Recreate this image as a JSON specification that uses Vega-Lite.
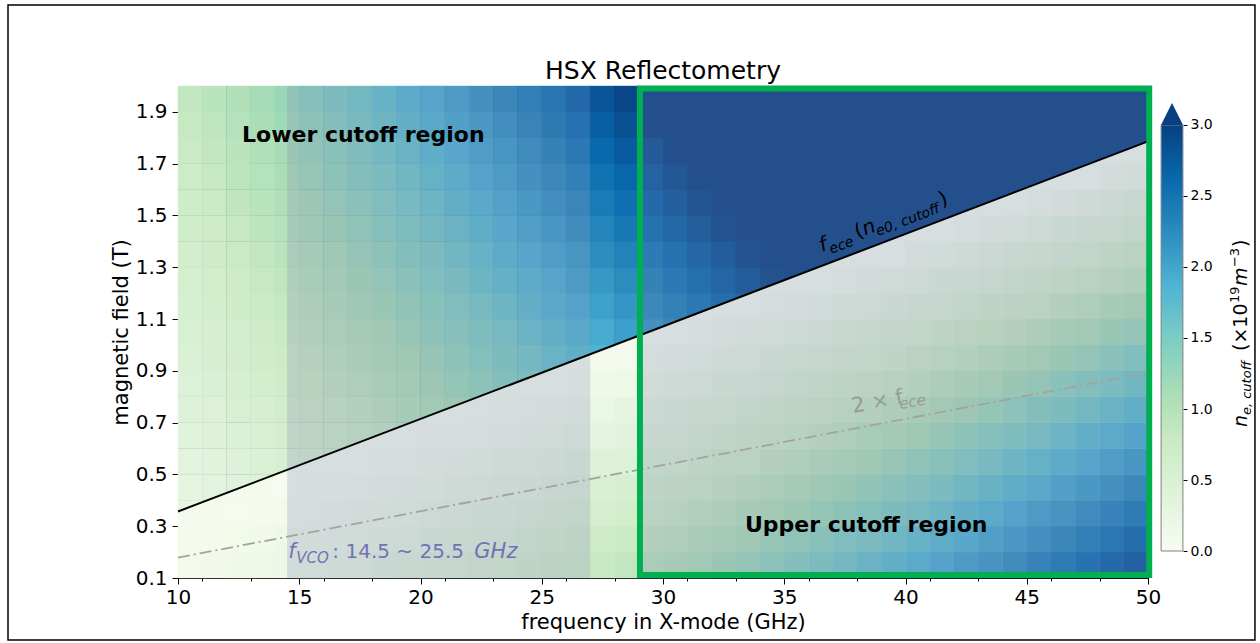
{
"$schema": "https://vega.github.io/schema/vega-lite/v6.json",
"width": 970, "height": 492,
"autosize": {"type": "none"},
"padding": {"left": 178, "top": 86, "right": 112, "bottom": 65},
"background": "white",
"view": {"fill": "#084081", "stroke": "black", "strokeWidth": 1},
"config": {"font": "DejaVu Sans", "text": {"font": "DejaVu Sans"}, "axis": {"labelOverlap": false}},
"datasets": {
"one": [{"k": 1}],
"ece": [{"f": 10, "b": 0.357, "b2": 0.179}, {"f": 50, "b": 1.786, "b2": 0.893}],
"bands": [{"f": 14.5, "f2": 27}, {"f": 29, "f2": 50}],
"lower": [
{"f":10.5,"b":0.35,"n":0.26},{"f":10.5,"b":0.45,"n":0.30},{"f":10.5,"b":0.55,"n":0.34},{"f":10.5,"b":0.65,"n":0.37},{"f":10.5,"b":0.75,"n":0.41},{"f":10.5,"b":0.85,"n":0.45},{"f":10.5,"b":0.95,"n":0.48},{"f":10.5,"b":1.05,"n":0.52},{"f":10.5,"b":1.15,"n":0.56},{"f":10.5,"b":1.25,"n":0.59},{"f":10.5,"b":1.35,"n":0.63},{"f":10.5,"b":1.45,"n":0.67},{"f":10.5,"b":1.55,"n":0.70},{"f":10.5,"b":1.65,"n":0.74},{"f":10.5,"b":1.75,"n":0.78},{"f":10.5,"b":1.85,"n":0.81},{"f":10.5,"b":1.95,"n":0.85},
{"f":11.5,"b":0.35,"n":0.30},{"f":11.5,"b":0.45,"n":0.34},{"f":11.5,"b":0.55,"n":0.38},{"f":11.5,"b":0.65,"n":0.42},{"f":11.5,"b":0.75,"n":0.46},{"f":11.5,"b":0.85,"n":0.50},{"f":11.5,"b":0.95,"n":0.54},{"f":11.5,"b":1.05,"n":0.58},{"f":11.5,"b":1.15,"n":0.62},{"f":11.5,"b":1.25,"n":0.66},{"f":11.5,"b":1.35,"n":0.70},{"f":11.5,"b":1.45,"n":0.74},{"f":11.5,"b":1.55,"n":0.78},{"f":11.5,"b":1.65,"n":0.82},{"f":11.5,"b":1.75,"n":0.86},{"f":11.5,"b":1.85,"n":0.90},{"f":11.5,"b":1.95,"n":0.94},
{"f":12.5,"b":0.45,"n":0.39},{"f":12.5,"b":0.55,"n":0.43},{"f":12.5,"b":0.65,"n":0.48},{"f":12.5,"b":0.75,"n":0.52},{"f":12.5,"b":0.85,"n":0.56},{"f":12.5,"b":0.95,"n":0.61},{"f":12.5,"b":1.05,"n":0.65},{"f":12.5,"b":1.15,"n":0.69},{"f":12.5,"b":1.25,"n":0.74},{"f":12.5,"b":1.35,"n":0.78},{"f":12.5,"b":1.45,"n":0.82},{"f":12.5,"b":1.55,"n":0.87},{"f":12.5,"b":1.65,"n":0.91},{"f":12.5,"b":1.75,"n":0.95},{"f":12.5,"b":1.85,"n":1.00},{"f":12.5,"b":1.95,"n":1.04},
{"f":13.5,"b":0.45,"n":0.44},{"f":13.5,"b":0.55,"n":0.48},{"f":13.5,"b":0.65,"n":0.53},{"f":13.5,"b":0.75,"n":0.58},{"f":13.5,"b":0.85,"n":0.62},{"f":13.5,"b":0.95,"n":0.67},{"f":13.5,"b":1.05,"n":0.72},{"f":13.5,"b":1.15,"n":0.77},{"f":13.5,"b":1.25,"n":0.81},{"f":13.5,"b":1.35,"n":0.86},{"f":13.5,"b":1.45,"n":0.91},{"f":13.5,"b":1.55,"n":0.95},{"f":13.5,"b":1.65,"n":1.00},{"f":13.5,"b":1.75,"n":1.05},{"f":13.5,"b":1.85,"n":1.09},{"f":13.5,"b":1.95,"n":1.14},
{"f":14.5,"b":0.55,"n":0.54},{"f":14.5,"b":0.65,"n":0.59},{"f":14.5,"b":0.75,"n":0.64},{"f":14.5,"b":0.85,"n":0.69},{"f":14.5,"b":0.95,"n":0.74},{"f":14.5,"b":1.05,"n":0.79},{"f":14.5,"b":1.15,"n":0.84},{"f":14.5,"b":1.25,"n":0.89},{"f":14.5,"b":1.35,"n":0.94},{"f":14.5,"b":1.45,"n":0.99},{"f":14.5,"b":1.55,"n":1.04},{"f":14.5,"b":1.65,"n":1.09},{"f":14.5,"b":1.75,"n":1.14},{"f":14.5,"b":1.85,"n":1.19},{"f":14.5,"b":1.95,"n":1.24},
{"f":15.5,"b":0.55,"n":0.59},{"f":15.5,"b":0.65,"n":0.65},{"f":15.5,"b":0.75,"n":0.70},{"f":15.5,"b":0.85,"n":0.76},{"f":15.5,"b":0.95,"n":0.81},{"f":15.5,"b":1.05,"n":0.86},{"f":15.5,"b":1.15,"n":0.92},{"f":15.5,"b":1.25,"n":0.97},{"f":15.5,"b":1.35,"n":1.02},{"f":15.5,"b":1.45,"n":1.08},{"f":15.5,"b":1.55,"n":1.13},{"f":15.5,"b":1.65,"n":1.19},{"f":15.5,"b":1.75,"n":1.24},{"f":15.5,"b":1.85,"n":1.29},{"f":15.5,"b":1.95,"n":1.35},
{"f":16.5,"b":0.55,"n":0.65},{"f":16.5,"b":0.65,"n":0.71},{"f":16.5,"b":0.75,"n":0.77},{"f":16.5,"b":0.85,"n":0.83},{"f":16.5,"b":0.95,"n":0.88},{"f":16.5,"b":1.05,"n":0.94},{"f":16.5,"b":1.15,"n":1.00},{"f":16.5,"b":1.25,"n":1.05},{"f":16.5,"b":1.35,"n":1.11},{"f":16.5,"b":1.45,"n":1.17},{"f":16.5,"b":1.55,"n":1.23},{"f":16.5,"b":1.65,"n":1.28},{"f":16.5,"b":1.75,"n":1.34},{"f":16.5,"b":1.85,"n":1.40},{"f":16.5,"b":1.95,"n":1.46},
{"f":17.5,"b":0.65,"n":0.78},{"f":17.5,"b":0.75,"n":0.84},{"f":17.5,"b":0.85,"n":0.90},{"f":17.5,"b":0.95,"n":0.96},{"f":17.5,"b":1.05,"n":1.02},{"f":17.5,"b":1.15,"n":1.08},{"f":17.5,"b":1.25,"n":1.14},{"f":17.5,"b":1.35,"n":1.20},{"f":17.5,"b":1.45,"n":1.26},{"f":17.5,"b":1.55,"n":1.32},{"f":17.5,"b":1.65,"n":1.38},{"f":17.5,"b":1.75,"n":1.44},{"f":17.5,"b":1.85,"n":1.51},{"f":17.5,"b":1.95,"n":1.57},
{"f":18.5,"b":0.65,"n":0.84},{"f":18.5,"b":0.75,"n":0.91},{"f":18.5,"b":0.85,"n":0.97},{"f":18.5,"b":0.95,"n":1.04},{"f":18.5,"b":1.05,"n":1.10},{"f":18.5,"b":1.15,"n":1.16},{"f":18.5,"b":1.25,"n":1.23},{"f":18.5,"b":1.35,"n":1.29},{"f":18.5,"b":1.45,"n":1.36},{"f":18.5,"b":1.55,"n":1.42},{"f":18.5,"b":1.65,"n":1.49},{"f":18.5,"b":1.75,"n":1.55},{"f":18.5,"b":1.85,"n":1.61},{"f":18.5,"b":1.95,"n":1.68},
{"f":19.5,"b":0.65,"n":0.91},{"f":19.5,"b":0.75,"n":0.98},{"f":19.5,"b":0.85,"n":1.05},{"f":19.5,"b":0.95,"n":1.12},{"f":19.5,"b":1.05,"n":1.18},{"f":19.5,"b":1.15,"n":1.25},{"f":19.5,"b":1.25,"n":1.32},{"f":19.5,"b":1.35,"n":1.39},{"f":19.5,"b":1.45,"n":1.45},{"f":19.5,"b":1.55,"n":1.52},{"f":19.5,"b":1.65,"n":1.59},{"f":19.5,"b":1.75,"n":1.66},{"f":19.5,"b":1.85,"n":1.72},{"f":19.5,"b":1.95,"n":1.79},
{"f":20.5,"b":0.75,"n":1.06},{"f":20.5,"b":0.85,"n":1.13},{"f":20.5,"b":0.95,"n":1.20},{"f":20.5,"b":1.05,"n":1.27},{"f":20.5,"b":1.15,"n":1.34},{"f":20.5,"b":1.25,"n":1.41},{"f":20.5,"b":1.35,"n":1.48},{"f":20.5,"b":1.45,"n":1.55},{"f":20.5,"b":1.55,"n":1.63},{"f":20.5,"b":1.65,"n":1.70},{"f":20.5,"b":1.75,"n":1.77},{"f":20.5,"b":1.85,"n":1.84},{"f":20.5,"b":1.95,"n":1.91},
{"f":21.5,"b":0.75,"n":1.13},{"f":21.5,"b":0.85,"n":1.21},{"f":21.5,"b":0.95,"n":1.28},{"f":21.5,"b":1.05,"n":1.36},{"f":21.5,"b":1.15,"n":1.43},{"f":21.5,"b":1.25,"n":1.51},{"f":21.5,"b":1.35,"n":1.58},{"f":21.5,"b":1.45,"n":1.66},{"f":21.5,"b":1.55,"n":1.73},{"f":21.5,"b":1.65,"n":1.81},{"f":21.5,"b":1.75,"n":1.88},{"f":21.5,"b":1.85,"n":1.96},{"f":21.5,"b":1.95,"n":2.03},
{"f":22.5,"b":0.75,"n":1.21},{"f":22.5,"b":0.85,"n":1.29},{"f":22.5,"b":0.95,"n":1.37},{"f":22.5,"b":1.05,"n":1.45},{"f":22.5,"b":1.15,"n":1.53},{"f":22.5,"b":1.25,"n":1.61},{"f":22.5,"b":1.35,"n":1.68},{"f":22.5,"b":1.45,"n":1.76},{"f":22.5,"b":1.55,"n":1.84},{"f":22.5,"b":1.65,"n":1.92},{"f":22.5,"b":1.75,"n":2.00},{"f":22.5,"b":1.85,"n":2.07},{"f":22.5,"b":1.95,"n":2.15},
{"f":23.5,"b":0.85,"n":1.38},{"f":23.5,"b":0.95,"n":1.46},{"f":23.5,"b":1.05,"n":1.54},{"f":23.5,"b":1.15,"n":1.62},{"f":23.5,"b":1.25,"n":1.71},{"f":23.5,"b":1.35,"n":1.79},{"f":23.5,"b":1.45,"n":1.87},{"f":23.5,"b":1.55,"n":1.95},{"f":23.5,"b":1.65,"n":2.03},{"f":23.5,"b":1.75,"n":2.11},{"f":23.5,"b":1.85,"n":2.20},{"f":23.5,"b":1.95,"n":2.28},
{"f":24.5,"b":0.85,"n":1.47},{"f":24.5,"b":0.95,"n":1.55},{"f":24.5,"b":1.05,"n":1.64},{"f":24.5,"b":1.15,"n":1.72},{"f":24.5,"b":1.25,"n":1.81},{"f":24.5,"b":1.35,"n":1.89},{"f":24.5,"b":1.45,"n":1.98},{"f":24.5,"b":1.55,"n":2.06},{"f":24.5,"b":1.65,"n":2.15},{"f":24.5,"b":1.75,"n":2.23},{"f":24.5,"b":1.85,"n":2.32},{"f":24.5,"b":1.95,"n":2.40},
{"f":25.5,"b":0.85,"n":1.56},{"f":25.5,"b":0.95,"n":1.65},{"f":25.5,"b":1.05,"n":1.74},{"f":25.5,"b":1.15,"n":1.83},{"f":25.5,"b":1.25,"n":1.91},{"f":25.5,"b":1.35,"n":2.00},{"f":25.5,"b":1.45,"n":2.09},{"f":25.5,"b":1.55,"n":2.18},{"f":25.5,"b":1.65,"n":2.27},{"f":25.5,"b":1.75,"n":2.36},{"f":25.5,"b":1.85,"n":2.45},{"f":25.5,"b":1.95,"n":2.53},
{"f":26.5,"b":0.95,"n":1.75},{"f":26.5,"b":1.05,"n":1.84},{"f":26.5,"b":1.15,"n":1.93},{"f":26.5,"b":1.25,"n":2.02},{"f":26.5,"b":1.35,"n":2.11},{"f":26.5,"b":1.45,"n":2.21},{"f":26.5,"b":1.55,"n":2.30},{"f":26.5,"b":1.65,"n":2.39},{"f":26.5,"b":1.75,"n":2.48},{"f":26.5,"b":1.85,"n":2.57},{"f":26.5,"b":1.95,"n":2.67},
{"f":27.5,"b":0.95,"n":1.85},{"f":27.5,"b":1.05,"n":1.94},{"f":27.5,"b":1.15,"n":2.04},{"f":27.5,"b":1.25,"n":2.13},{"f":27.5,"b":1.35,"n":2.23},{"f":27.5,"b":1.45,"n":2.32},{"f":27.5,"b":1.55,"n":2.42},{"f":27.5,"b":1.65,"n":2.51},{"f":27.5,"b":1.75,"n":2.61},{"f":27.5,"b":1.85,"n":2.71},{"f":27.5,"b":1.95,"n":2.80},
{"f":28.5,"b":1.05,"n":2.05},{"f":28.5,"b":1.15,"n":2.15},{"f":28.5,"b":1.25,"n":2.25},{"f":28.5,"b":1.35,"n":2.34},{"f":28.5,"b":1.45,"n":2.44},{"f":28.5,"b":1.55,"n":2.54},{"f":28.5,"b":1.65,"n":2.64},{"f":28.5,"b":1.75,"n":2.74},{"f":28.5,"b":1.85,"n":2.84},{"f":28.5,"b":1.95,"n":2.94},
{"f":29.5,"b":1.05,"n":2.16},{"f":29.5,"b":1.15,"n":2.26},{"f":29.5,"b":1.25,"n":2.36},{"f":29.5,"b":1.35,"n":2.46},{"f":29.5,"b":1.45,"n":2.57},{"f":29.5,"b":1.55,"n":2.67},{"f":29.5,"b":1.65,"n":2.77},{"f":29.5,"b":1.75,"n":2.87},{"f":29.5,"b":1.85,"n":2.98},
{"f":30.5,"b":1.05,"n":2.27},{"f":30.5,"b":1.15,"n":2.37},{"f":30.5,"b":1.25,"n":2.48},{"f":30.5,"b":1.35,"n":2.58},{"f":30.5,"b":1.45,"n":2.69},{"f":30.5,"b":1.55,"n":2.80},{"f":30.5,"b":1.65,"n":2.90},
{"f":31.5,"b":1.15,"n":2.49},{"f":31.5,"b":1.25,"n":2.60},{"f":31.5,"b":1.35,"n":2.71},{"f":31.5,"b":1.45,"n":2.82},{"f":31.5,"b":1.55,"n":2.93},
{"f":32.5,"b":1.15,"n":2.61},{"f":32.5,"b":1.25,"n":2.72},{"f":32.5,"b":1.35,"n":2.83},{"f":32.5,"b":1.45,"n":2.95},
{"f":33.5,"b":1.15,"n":2.73},{"f":33.5,"b":1.25,"n":2.85},{"f":33.5,"b":1.35,"n":2.96},
{"f":34.5,"b":1.25,"n":2.97}
],
"upper": [
{"f":10.5,"b":0.15,"n":0.08},{"f":10.5,"b":0.25,"n":0.05},
{"f":11.5,"b":0.15,"n":0.10},{"f":11.5,"b":0.25,"n":0.06},
{"f":12.5,"b":0.15,"n":0.13},{"f":12.5,"b":0.25,"n":0.09},{"f":12.5,"b":0.35,"n":0.04},
{"f":13.5,"b":0.15,"n":0.16},{"f":13.5,"b":0.25,"n":0.11},{"f":13.5,"b":0.35,"n":0.06},
{"f":14.5,"b":0.15,"n":0.19},{"f":14.5,"b":0.25,"n":0.14},{"f":14.5,"b":0.35,"n":0.08},{"f":14.5,"b":0.45,"n":0.03},
{"f":15.5,"b":0.15,"n":0.22},{"f":15.5,"b":0.25,"n":0.16},{"f":15.5,"b":0.35,"n":0.11},{"f":15.5,"b":0.45,"n":0.06},
{"f":16.5,"b":0.15,"n":0.25},{"f":16.5,"b":0.25,"n":0.19},{"f":16.5,"b":0.35,"n":0.14},{"f":16.5,"b":0.45,"n":0.08},
{"f":17.5,"b":0.15,"n":0.29},{"f":17.5,"b":0.25,"n":0.23},{"f":17.5,"b":0.35,"n":0.17},{"f":17.5,"b":0.45,"n":0.11},{"f":17.5,"b":0.55,"n":0.05},
{"f":18.5,"b":0.15,"n":0.33},{"f":18.5,"b":0.25,"n":0.26},{"f":18.5,"b":0.35,"n":0.20},{"f":18.5,"b":0.45,"n":0.14},{"f":18.5,"b":0.55,"n":0.07},
{"f":19.5,"b":0.15,"n":0.37},{"f":19.5,"b":0.25,"n":0.30},{"f":19.5,"b":0.35,"n":0.23},{"f":19.5,"b":0.45,"n":0.17},{"f":19.5,"b":0.55,"n":0.10},
{"f":20.5,"b":0.15,"n":0.41},{"f":20.5,"b":0.25,"n":0.34},{"f":20.5,"b":0.35,"n":0.27},{"f":20.5,"b":0.45,"n":0.20},{"f":20.5,"b":0.55,"n":0.13},{"f":20.5,"b":0.65,"n":0.06},
{"f":21.5,"b":0.15,"n":0.46},{"f":21.5,"b":0.25,"n":0.39},{"f":21.5,"b":0.35,"n":0.31},{"f":21.5,"b":0.45,"n":0.24},{"f":21.5,"b":0.55,"n":0.16},{"f":21.5,"b":0.65,"n":0.09},
{"f":22.5,"b":0.15,"n":0.51},{"f":22.5,"b":0.25,"n":0.43},{"f":22.5,"b":0.35,"n":0.35},{"f":22.5,"b":0.45,"n":0.28},{"f":22.5,"b":0.55,"n":0.20},{"f":22.5,"b":0.65,"n":0.12},
{"f":23.5,"b":0.15,"n":0.56},{"f":23.5,"b":0.25,"n":0.48},{"f":23.5,"b":0.35,"n":0.40},{"f":23.5,"b":0.45,"n":0.32},{"f":23.5,"b":0.55,"n":0.24},{"f":23.5,"b":0.65,"n":0.15},{"f":23.5,"b":0.75,"n":0.07},
{"f":24.5,"b":0.15,"n":0.62},{"f":24.5,"b":0.25,"n":0.53},{"f":24.5,"b":0.35,"n":0.45},{"f":24.5,"b":0.45,"n":0.36},{"f":24.5,"b":0.55,"n":0.28},{"f":24.5,"b":0.65,"n":0.19},{"f":24.5,"b":0.75,"n":0.11},
{"f":25.5,"b":0.15,"n":0.67},{"f":25.5,"b":0.25,"n":0.59},{"f":25.5,"b":0.35,"n":0.50},{"f":25.5,"b":0.45,"n":0.41},{"f":25.5,"b":0.55,"n":0.32},{"f":25.5,"b":0.65,"n":0.23},{"f":25.5,"b":0.75,"n":0.14},
{"f":26.5,"b":0.15,"n":0.73},{"f":26.5,"b":0.25,"n":0.64},{"f":26.5,"b":0.35,"n":0.55},{"f":26.5,"b":0.45,"n":0.46},{"f":26.5,"b":0.55,"n":0.37},{"f":26.5,"b":0.65,"n":0.27},{"f":26.5,"b":0.75,"n":0.18},{"f":26.5,"b":0.85,"n":0.09},
{"f":27.5,"b":0.15,"n":0.80},{"f":27.5,"b":0.25,"n":0.70},{"f":27.5,"b":0.35,"n":0.60},{"f":27.5,"b":0.45,"n":0.51},{"f":27.5,"b":0.55,"n":0.41},{"f":27.5,"b":0.65,"n":0.32},{"f":27.5,"b":0.75,"n":0.22},{"f":27.5,"b":0.85,"n":0.13},
{"f":28.5,"b":0.15,"n":0.86},{"f":28.5,"b":0.25,"n":0.76},{"f":28.5,"b":0.35,"n":0.66},{"f":28.5,"b":0.45,"n":0.56},{"f":28.5,"b":0.55,"n":0.46},{"f":28.5,"b":0.65,"n":0.36},{"f":28.5,"b":0.75,"n":0.27},{"f":28.5,"b":0.85,"n":0.17},{"f":28.5,"b":0.95,"n":0.07},
{"f":29.5,"b":0.15,"n":0.93},{"f":29.5,"b":0.25,"n":0.82},{"f":29.5,"b":0.35,"n":0.72},{"f":29.5,"b":0.45,"n":0.62},{"f":29.5,"b":0.55,"n":0.52},{"f":29.5,"b":0.65,"n":0.41},{"f":29.5,"b":0.75,"n":0.31},{"f":29.5,"b":0.85,"n":0.21},{"f":29.5,"b":0.95,"n":0.11},
{"f":30.5,"b":0.15,"n":1.00},{"f":30.5,"b":0.25,"n":0.89},{"f":30.5,"b":0.35,"n":0.78},{"f":30.5,"b":0.45,"n":0.68},{"f":30.5,"b":0.55,"n":0.57},{"f":30.5,"b":0.65,"n":0.47},{"f":30.5,"b":0.75,"n":0.36},{"f":30.5,"b":0.85,"n":0.25},{"f":30.5,"b":0.95,"n":0.15},
{"f":31.5,"b":0.15,"n":1.07},{"f":31.5,"b":0.25,"n":0.96},{"f":31.5,"b":0.35,"n":0.85},{"f":31.5,"b":0.45,"n":0.74},{"f":31.5,"b":0.55,"n":0.63},{"f":31.5,"b":0.65,"n":0.52},{"f":31.5,"b":0.75,"n":0.41},{"f":31.5,"b":0.85,"n":0.30},{"f":31.5,"b":0.95,"n":0.19},{"f":31.5,"b":1.05,"n":0.08},
{"f":32.5,"b":0.15,"n":1.14},{"f":32.5,"b":0.25,"n":1.03},{"f":32.5,"b":0.35,"n":0.92},{"f":32.5,"b":0.45,"n":0.80},{"f":32.5,"b":0.55,"n":0.69},{"f":32.5,"b":0.65,"n":0.58},{"f":32.5,"b":0.75,"n":0.46},{"f":32.5,"b":0.85,"n":0.35},{"f":32.5,"b":0.95,"n":0.24},{"f":32.5,"b":1.05,"n":0.13},
{"f":33.5,"b":0.15,"n":1.22},{"f":33.5,"b":0.25,"n":1.10},{"f":33.5,"b":0.35,"n":0.99},{"f":33.5,"b":0.45,"n":0.87},{"f":33.5,"b":0.55,"n":0.75},{"f":33.5,"b":0.65,"n":0.64},{"f":33.5,"b":0.75,"n":0.52},{"f":33.5,"b":0.85,"n":0.40},{"f":33.5,"b":0.95,"n":0.29},{"f":33.5,"b":1.05,"n":0.17},
{"f":34.5,"b":0.15,"n":1.30},{"f":34.5,"b":0.25,"n":1.18},{"f":34.5,"b":0.35,"n":1.06},{"f":34.5,"b":0.45,"n":0.94},{"f":34.5,"b":0.55,"n":0.82},{"f":34.5,"b":0.65,"n":0.70},{"f":34.5,"b":0.75,"n":0.58},{"f":34.5,"b":0.85,"n":0.46},{"f":34.5,"b":0.95,"n":0.34},{"f":34.5,"b":1.05,"n":0.22},{"f":34.5,"b":1.15,"n":0.10},
{"f":35.5,"b":0.15,"n":1.38},{"f":35.5,"b":0.25,"n":1.26},{"f":35.5,"b":0.35,"n":1.13},{"f":35.5,"b":0.45,"n":1.01},{"f":35.5,"b":0.55,"n":0.89},{"f":35.5,"b":0.65,"n":0.76},{"f":35.5,"b":0.75,"n":0.64},{"f":35.5,"b":0.85,"n":0.52},{"f":35.5,"b":0.95,"n":0.39},{"f":35.5,"b":1.05,"n":0.27},{"f":35.5,"b":1.15,"n":0.15},
{"f":36.5,"b":0.15,"n":1.46},{"f":36.5,"b":0.25,"n":1.34},{"f":36.5,"b":0.35,"n":1.21},{"f":36.5,"b":0.45,"n":1.08},{"f":36.5,"b":0.55,"n":0.96},{"f":36.5,"b":0.65,"n":0.83},{"f":36.5,"b":0.75,"n":0.70},{"f":36.5,"b":0.85,"n":0.58},{"f":36.5,"b":0.95,"n":0.45},{"f":36.5,"b":1.05,"n":0.32},{"f":36.5,"b":1.15,"n":0.19},
{"f":37.5,"b":0.15,"n":1.55},{"f":37.5,"b":0.25,"n":1.42},{"f":37.5,"b":0.35,"n":1.29},{"f":37.5,"b":0.45,"n":1.16},{"f":37.5,"b":0.55,"n":1.03},{"f":37.5,"b":0.65,"n":0.90},{"f":37.5,"b":0.75,"n":0.77},{"f":37.5,"b":0.85,"n":0.64},{"f":37.5,"b":0.95,"n":0.51},{"f":37.5,"b":1.05,"n":0.38},{"f":37.5,"b":1.15,"n":0.25},{"f":37.5,"b":1.25,"n":0.12},
{"f":38.5,"b":0.15,"n":1.64},{"f":38.5,"b":0.25,"n":1.50},{"f":38.5,"b":0.35,"n":1.37},{"f":38.5,"b":0.45,"n":1.24},{"f":38.5,"b":0.55,"n":1.10},{"f":38.5,"b":0.65,"n":0.97},{"f":38.5,"b":0.75,"n":0.84},{"f":38.5,"b":0.85,"n":0.70},{"f":38.5,"b":0.95,"n":0.57},{"f":38.5,"b":1.05,"n":0.44},{"f":38.5,"b":1.15,"n":0.30},{"f":38.5,"b":1.25,"n":0.17},
{"f":39.5,"b":0.15,"n":1.73},{"f":39.5,"b":0.25,"n":1.59},{"f":39.5,"b":0.35,"n":1.46},{"f":39.5,"b":0.45,"n":1.32},{"f":39.5,"b":0.55,"n":1.18},{"f":39.5,"b":0.65,"n":1.04},{"f":39.5,"b":0.75,"n":0.91},{"f":39.5,"b":0.85,"n":0.77},{"f":39.5,"b":0.95,"n":0.63},{"f":39.5,"b":1.05,"n":0.49},{"f":39.5,"b":1.15,"n":0.36},{"f":39.5,"b":1.25,"n":0.22},
{"f":40.5,"b":0.15,"n":1.82},{"f":40.5,"b":0.25,"n":1.68},{"f":40.5,"b":0.35,"n":1.54},{"f":40.5,"b":0.45,"n":1.40},{"f":40.5,"b":0.55,"n":1.26},{"f":40.5,"b":0.65,"n":1.12},{"f":40.5,"b":0.75,"n":0.98},{"f":40.5,"b":0.85,"n":0.84},{"f":40.5,"b":0.95,"n":0.70},{"f":40.5,"b":1.05,"n":0.56},{"f":40.5,"b":1.15,"n":0.42},{"f":40.5,"b":1.25,"n":0.28},{"f":40.5,"b":1.35,"n":0.14},
{"f":41.5,"b":0.15,"n":1.92},{"f":41.5,"b":0.25,"n":1.78},{"f":41.5,"b":0.35,"n":1.63},{"f":41.5,"b":0.45,"n":1.49},{"f":41.5,"b":0.55,"n":1.34},{"f":41.5,"b":0.65,"n":1.20},{"f":41.5,"b":0.75,"n":1.06},{"f":41.5,"b":0.85,"n":0.91},{"f":41.5,"b":0.95,"n":0.77},{"f":41.5,"b":1.05,"n":0.62},{"f":41.5,"b":1.15,"n":0.48},{"f":41.5,"b":1.25,"n":0.33},{"f":41.5,"b":1.35,"n":0.19},
{"f":42.5,"b":0.15,"n":2.02},{"f":42.5,"b":0.25,"n":1.87},{"f":42.5,"b":0.35,"n":1.72},{"f":42.5,"b":0.45,"n":1.58},{"f":42.5,"b":0.55,"n":1.43},{"f":42.5,"b":0.65,"n":1.28},{"f":42.5,"b":0.75,"n":1.13},{"f":42.5,"b":0.85,"n":0.99},{"f":42.5,"b":0.95,"n":0.84},{"f":42.5,"b":1.05,"n":0.69},{"f":42.5,"b":1.15,"n":0.54},{"f":42.5,"b":1.25,"n":0.40},{"f":42.5,"b":1.35,"n":0.25},{"f":42.5,"b":1.45,"n":0.10},
{"f":43.5,"b":0.15,"n":2.12},{"f":43.5,"b":0.25,"n":1.97},{"f":43.5,"b":0.35,"n":1.82},{"f":43.5,"b":0.45,"n":1.67},{"f":43.5,"b":0.55,"n":1.52},{"f":43.5,"b":0.65,"n":1.37},{"f":43.5,"b":0.75,"n":1.21},{"f":43.5,"b":0.85,"n":1.06},{"f":43.5,"b":0.95,"n":0.91},{"f":43.5,"b":1.05,"n":0.76},{"f":43.5,"b":1.15,"n":0.61},{"f":43.5,"b":1.25,"n":0.46},{"f":43.5,"b":1.35,"n":0.31},{"f":43.5,"b":1.45,"n":0.16},
{"f":44.5,"b":0.15,"n":2.23},{"f":44.5,"b":0.25,"n":2.07},{"f":44.5,"b":0.35,"n":1.92},{"f":44.5,"b":0.45,"n":1.76},{"f":44.5,"b":0.55,"n":1.61},{"f":44.5,"b":0.65,"n":1.45},{"f":44.5,"b":0.75,"n":1.30},{"f":44.5,"b":0.85,"n":1.14},{"f":44.5,"b":0.95,"n":0.99},{"f":44.5,"b":1.05,"n":0.83},{"f":44.5,"b":1.15,"n":0.68},{"f":44.5,"b":1.25,"n":0.52},{"f":44.5,"b":1.35,"n":0.37},{"f":44.5,"b":1.45,"n":0.22},
{"f":45.5,"b":0.15,"n":2.33},{"f":45.5,"b":0.25,"n":2.17},{"f":45.5,"b":0.35,"n":2.02},{"f":45.5,"b":0.45,"n":1.86},{"f":45.5,"b":0.55,"n":1.70},{"f":45.5,"b":0.65,"n":1.54},{"f":45.5,"b":0.75,"n":1.38},{"f":45.5,"b":0.85,"n":1.23},{"f":45.5,"b":0.95,"n":1.07},{"f":45.5,"b":1.05,"n":0.91},{"f":45.5,"b":1.15,"n":0.75},{"f":45.5,"b":1.25,"n":0.59},{"f":45.5,"b":1.35,"n":0.44},{"f":45.5,"b":1.45,"n":0.28},{"f":45.5,"b":1.55,"n":0.12},
{"f":46.5,"b":0.15,"n":2.44},{"f":46.5,"b":0.25,"n":2.28},{"f":46.5,"b":0.35,"n":2.12},{"f":46.5,"b":0.45,"n":1.96},{"f":46.5,"b":0.55,"n":1.79},{"f":46.5,"b":0.65,"n":1.63},{"f":46.5,"b":0.75,"n":1.47},{"f":46.5,"b":0.85,"n":1.31},{"f":46.5,"b":0.95,"n":1.15},{"f":46.5,"b":1.05,"n":0.99},{"f":46.5,"b":1.15,"n":0.83},{"f":46.5,"b":1.25,"n":0.66},{"f":46.5,"b":1.35,"n":0.50},{"f":46.5,"b":1.45,"n":0.34},{"f":46.5,"b":1.55,"n":0.18},
{"f":47.5,"b":0.15,"n":2.55},{"f":47.5,"b":0.25,"n":2.39},{"f":47.5,"b":0.35,"n":2.22},{"f":47.5,"b":0.45,"n":2.06},{"f":47.5,"b":0.55,"n":1.89},{"f":47.5,"b":0.65,"n":1.73},{"f":47.5,"b":0.75,"n":1.56},{"f":47.5,"b":0.85,"n":1.40},{"f":47.5,"b":0.95,"n":1.23},{"f":47.5,"b":1.05,"n":1.07},{"f":47.5,"b":1.15,"n":0.90},{"f":47.5,"b":1.25,"n":0.74},{"f":47.5,"b":1.35,"n":0.57},{"f":47.5,"b":1.45,"n":0.41},{"f":47.5,"b":1.55,"n":0.24},
{"f":48.5,"b":0.15,"n":2.67},{"f":48.5,"b":0.25,"n":2.50},{"f":48.5,"b":0.35,"n":2.33},{"f":48.5,"b":0.45,"n":2.16},{"f":48.5,"b":0.55,"n":1.99},{"f":48.5,"b":0.65,"n":1.82},{"f":48.5,"b":0.75,"n":1.65},{"f":48.5,"b":0.85,"n":1.49},{"f":48.5,"b":0.95,"n":1.32},{"f":48.5,"b":1.05,"n":1.15},{"f":48.5,"b":1.15,"n":0.98},{"f":48.5,"b":1.25,"n":0.81},{"f":48.5,"b":1.35,"n":0.64},{"f":48.5,"b":1.45,"n":0.47},{"f":48.5,"b":1.55,"n":0.31},{"f":48.5,"b":1.65,"n":0.14},
{"f":49.5,"b":0.15,"n":2.78},{"f":49.5,"b":0.25,"n":2.61},{"f":49.5,"b":0.35,"n":2.44},{"f":49.5,"b":0.45,"n":2.27},{"f":49.5,"b":0.55,"n":2.09},{"f":49.5,"b":0.65,"n":1.92},{"f":49.5,"b":0.75,"n":1.75},{"f":49.5,"b":0.85,"n":1.58},{"f":49.5,"b":0.95,"n":1.41},{"f":49.5,"b":1.05,"n":1.23},{"f":49.5,"b":1.15,"n":1.06},{"f":49.5,"b":1.25,"n":0.89},{"f":49.5,"b":1.35,"n":0.72},{"f":49.5,"b":1.45,"n":0.55},{"f":49.5,"b":1.55,"n":0.37},{"f":49.5,"b":1.65,"n":0.20}
]
},
"layer": [
{"layer": [
 {"data": {"name": "lower"},
  "mark": {"type": "rect", "width": 24.6, "height": 26.3},
  "encoding": {
   "x": {"field": "f", "type": "quantitative", "scale": {"domain": [10, 50], "nice": false, "zero": false},
     "axis": {"title": "frequency in X-mode (GHz)", "values": [10, 15, 20, 25, 30, 35, 40, 45, 50], "format": "d",
       "tickSize": 6, "labelFontSize": 20, "labelFont": "DejaVu Sans", "titleFont": "DejaVu Sans", "titleFontSize": 21, "titleFontWeight": "normal",
       "labelPadding": 3, "titlePadding": 4, "labelOverlap": false, "labelFlush": false, "grid": false,
       "domainColor": "black", "tickColor": "black", "labelColor": "black", "titleColor": "black"}},
   "y": {"field": "b", "type": "quantitative", "scale": {"domain": [0.1, 2.0], "nice": false, "zero": false},
     "axis": {"title": "magnetic field (T)", "values": [0.1,0.2,0.3,0.4,0.5,0.6,0.7,0.8,0.9,1.0,1.1,1.2,1.3,1.4,1.5,1.6,1.7,1.8,1.9,2.0],
       "labelExpr": "round(datum.value*10) % 2 === 1 ? format(datum.value, '.1f') : ''",
       "tickSize": {"condition": {"test": "round(datum.value*10) % 2 === 1", "value": 6}, "value": 3},
       "labelFontSize": 20, "labelFont": "DejaVu Sans", "titleFont": "DejaVu Sans", "titleFontSize": 21, "titleFontWeight": "normal",
       "labelPadding": 5, "titlePadding": 4, "labelOverlap": false, "labelFlush": false, "grid": false,
       "domainColor": "black", "tickColor": "black", "labelColor": "black", "titleColor": "black"}},
   "color": {"field": "n", "type": "quantitative", "scale": {"type": "linear", "domain": [0, 0.375, 0.75, 1.125, 1.5, 1.875, 2.25, 2.625, 3], "range": ["#f7fcf0", "#e0f3db", "#ccebc5", "#a8ddb5", "#7bccc4", "#4eb3d3", "#2b8cbe", "#0868ac", "#084081"], "clamp": true}, "legend": null}
  }},
 {"data": {"name": "ece"},
  "mark": {"type": "area", "color": "#f4fbee"},
  "encoding": {"x": {"field": "f", "type": "quantitative"}, "y": {"field": "b", "type": "quantitative"}, "y2": {"datum": 0.1}}},
 {"data": {"name": "upper"},
  "mark": {"type": "rect", "width": 24.6, "height": 26.3},
  "encoding": {
   "x": {"field": "f", "type": "quantitative"},
   "y": {"field": "b", "type": "quantitative"},
   "color": {"field": "n", "type": "quantitative", "legend": null}
  }},
 {"data": {"name": "bands"},
  "mark": {"type": "rect", "color": "#7d82b4", "opacity": 0.24},
  "encoding": {"x": {"field": "f", "type": "quantitative"}, "x2": {"field": "f2"}, "y": {"datum": 0.1}, "y2": {"datum": 2.0}}},
 {"data": {"name": "ece"},
  "mark": {"type": "line", "color": "black", "strokeWidth": 2},
  "encoding": {"x": {"field": "f", "type": "quantitative"}, "y": {"field": "b", "type": "quantitative"}}},
 {"data": {"name": "ece"},
  "mark": {"type": "line", "color": "#a3a3a3", "strokeWidth": 1.8, "strokeDash": [12, 4, 2, 4]},
  "encoding": {"x": {"field": "f", "type": "quantitative"}, "y": {"field": "b2", "type": "quantitative"}}},
 {"data": {"name": "one"},
  "mark": {"type": "rect", "fillOpacity": 0, "stroke": "#00b050", "strokeWidth": 6},
  "encoding": {"x": {"datum": 29.05}, "x2": {"datum": 50.05}, "y": {"datum": 0.112}, "y2": {"datum": 1.99}}},
 {"data": {"name": "one"},
  "mark": {"type": "text", "text": "HSX Reflectometry", "align": "center", "baseline": "alphabetic", "fontSize": 25, "color": "black"},
  "encoding": {"x": {"datum": 30}, "y": {"datum": 2.027}}},
 {"data": {"name": "one"},
  "mark": {"type": "text", "text": "Lower cutoff region", "align": "left", "baseline": "alphabetic", "fontSize": 22, "fontWeight": "bold", "color": "black"},
  "encoding": {"x": {"datum": 12.64}, "y": {"datum": 1.782}}},
 {"data": {"name": "one"},
  "mark": {"type": "text", "text": "Upper cutoff region", "align": "left", "baseline": "alphabetic", "fontSize": 22, "fontWeight": "bold", "color": "black"},
  "encoding": {"x": {"datum": 33.38}, "y": {"datum": 0.279}}},
 {"data": {"name": "one"},
  "mark": {"type": "text", "text": "f", "align": "left", "baseline": "alphabetic", "fontSize": 21, "fontStyle": "italic", "color": "#7073b3"},
  "encoding": {"x": {"datum": 14.55}, "y": {"datum": 0.176}}},
 {"data": {"name": "one"},
  "mark": {"type": "text", "text": "VCO", "align": "left", "baseline": "alphabetic", "fontSize": 15, "fontStyle": "italic", "color": "#7073b3", "dx": 8, "dy": 5},
  "encoding": {"x": {"datum": 14.55}, "y": {"datum": 0.176}}},
 {"data": {"name": "one"},
  "mark": {"type": "text", "text": ": 14.5 ~ 25.5", "align": "left", "baseline": "alphabetic", "fontSize": 20, "color": "#7073b3", "dx": 44},
  "encoding": {"x": {"datum": 14.55}, "y": {"datum": 0.176}}},
 {"data": {"name": "one"},
  "mark": {"type": "text", "text": "GHz", "align": "left", "baseline": "alphabetic", "fontSize": 21, "fontStyle": "italic", "color": "#7073b3", "dx": 186},
  "encoding": {"x": {"datum": 14.55}, "y": {"datum": 0.176}}},
 {"data": {"name": "one"},
  "mark": {"type": "text", "text": "f", "align": "left", "baseline": "alphabetic", "fontSize": 20, "fontStyle": "italic", "angle": -20.9, "color": "black"},
  "encoding": {"x": {"datum": 36.56}, "y": {"datum": 1.359}}},
 {"data": {"name": "one"},
  "mark": {"type": "text", "text": "ece", "align": "left", "baseline": "alphabetic", "fontSize": 14, "fontStyle": "italic", "angle": -20.9, "dx": 8, "dy": 5, "color": "black"},
  "encoding": {"x": {"datum": 36.56}, "y": {"datum": 1.359}}},
 {"data": {"name": "one"},
  "mark": {"type": "text", "text": "(", "align": "left", "baseline": "alphabetic", "fontSize": 20, "angle": -20.9, "dx": 38, "color": "black"},
  "encoding": {"x": {"datum": 36.56}, "y": {"datum": 1.359}}},
 {"data": {"name": "one"},
  "mark": {"type": "text", "text": "n", "align": "left", "baseline": "alphabetic", "fontSize": 20, "fontStyle": "italic", "angle": -20.9, "dx": 46, "color": "black"},
  "encoding": {"x": {"datum": 36.56}, "y": {"datum": 1.359}}},
 {"data": {"name": "one"},
  "mark": {"type": "text", "text": "e0, cutoff", "align": "left", "baseline": "alphabetic", "fontSize": 14, "fontStyle": "italic", "angle": -20.9, "dx": 58, "dy": 5, "color": "black"},
  "encoding": {"x": {"datum": 36.56}, "y": {"datum": 1.359}}},
 {"data": {"name": "one"},
  "mark": {"type": "text", "text": ")", "align": "left", "baseline": "alphabetic", "fontSize": 20, "angle": -20.9, "dx": 128, "color": "black"},
  "encoding": {"x": {"datum": 36.56}, "y": {"datum": 1.359}}},
 {"data": {"name": "one"},
  "mark": {"type": "text", "text": "2 × f", "align": "left", "baseline": "alphabetic", "fontSize": 21, "angle": -10.8, "color": "#9a9a9a"},
  "encoding": {"x": {"datum": 37.84}, "y": {"datum": 0.737}}},
 {"data": {"name": "one"},
  "mark": {"type": "text", "text": "ece", "align": "left", "baseline": "alphabetic", "fontSize": 15, "fontStyle": "italic", "angle": -10.8, "dx": 47, "dy": 5, "color": "#9a9a9a"},
  "encoding": {"x": {"datum": 37.84}, "y": {"datum": 0.737}}},
 {"data": {"name": "one"},
  "mark": {"type": "rect", "fillOpacity": 0, "stroke": "black", "strokeWidth": 1.5},
  "encoding": {"x": {"datum": 2.99}, "x2": {"datum": 54.41}, "y": {"datum": -0.1395}, "y2": {"datum": 2.313}}}
]},
{"layer": [
 {"data": {"name": "one"},
  "mark": {"type": "rect", "stroke": "#808080", "strokeWidth": 1,
    "color": {"gradient": "linear", "x1": 0, "y1": 1, "x2": 0, "y2": 0, "stops": [
      {"offset": 0, "color": "#f7fcf0"}, {"offset": 0.125, "color": "#e0f3db"}, {"offset": 0.25, "color": "#ccebc5"},
      {"offset": 0.375, "color": "#a8ddb5"}, {"offset": 0.5, "color": "#7bccc4"}, {"offset": 0.625, "color": "#4eb3d3"},
      {"offset": 0.75, "color": "#2b8cbe"}, {"offset": 0.875, "color": "#0868ac"}, {"offset": 1, "color": "#084081"}]}},
  "encoding": {
   "x": {"datum": 50.54, "type": "quantitative",
     "axis": {"orient": "bottom", "values": [11,12,13,14,16,17,18,19,21,22,23,24,26,27,28,29,31,32,33,34,36,37,38,39,41,42,43,44,46,47,48,49],
       "labels": false, "tickSize": 3, "tickColor": "black", "domain": false, "title": null, "grid": false}},
   "x2": {"datum": 51.44},
   "y": {"datum": 0, "type": "quantitative", "scale": {"domain": [-0.1901, 3.2746], "nice": false, "zero": false},
     "axis": {"orient": "right", "offset": 35, "values": [0, 0.5, 1, 1.5, 2, 2.5, 3], "format": ".1f", "title": null, "domain": false,
       "tickSize": 4, "tickColor": "black", "labelFontSize": 14, "labelFont": "DejaVu Sans", "labelColor": "black", "labelPadding": 3, "grid": false}},
   "y2": {"datum": 3}
  }},
 {"data": {"name": "one"},
  "mark": {"type": "point", "shape": "M-1,1L0,-1L1,1Z", "size": 484, "filled": true, "color": "#084081", "opacity": 1},
  "encoding": {"x": {"datum": 50.99}, "y": {"datum": 3.0775}}},
 {"data": {"name": "one"},
  "mark": {"type": "text", "text": "n", "align": "left", "baseline": "alphabetic", "fontSize": 19, "fontStyle": "italic", "angle": -90, "color": "black"},
  "encoding": {"x": {"datum": 54.08}, "y": {"datum": 0.873}}},
 {"data": {"name": "one"},
  "mark": {"type": "text", "text": "e, cutoff", "align": "left", "baseline": "alphabetic", "fontSize": 13, "fontStyle": "italic", "angle": -90, "dx": 12, "dy": 4, "color": "black"},
  "encoding": {"x": {"datum": 54.08}, "y": {"datum": 0.873}}},
 {"data": {"name": "one"},
  "mark": {"type": "text", "text": "(×10", "align": "left", "baseline": "alphabetic", "fontSize": 19, "angle": -90, "dx": 76, "color": "black"},
  "encoding": {"x": {"datum": 54.08}, "y": {"datum": 0.873}}},
 {"data": {"name": "one"},
  "mark": {"type": "text", "text": "19", "align": "left", "baseline": "alphabetic", "fontSize": 13, "angle": -90, "dx": 124, "dy": -8, "color": "black"},
  "encoding": {"x": {"datum": 54.08}, "y": {"datum": 0.873}}},
 {"data": {"name": "one"},
  "mark": {"type": "text", "text": "m", "align": "left", "baseline": "alphabetic", "fontSize": 19, "fontStyle": "italic", "angle": -90, "dx": 141, "color": "black"},
  "encoding": {"x": {"datum": 54.08}, "y": {"datum": 0.873}}},
 {"data": {"name": "one"},
  "mark": {"type": "text", "text": "−3", "align": "left", "baseline": "alphabetic", "fontSize": 13, "angle": -90, "dx": 160, "dy": -8, "color": "black"},
  "encoding": {"x": {"datum": 54.08}, "y": {"datum": 0.873}}},
 {"data": {"name": "one"},
  "mark": {"type": "text", "text": ")", "align": "left", "baseline": "alphabetic", "fontSize": 19, "angle": -90, "dx": 180, "color": "black"},
  "encoding": {"x": {"datum": 54.08}, "y": {"datum": 0.873}}}
]}
],
"resolve": {"scale": {"y": "independent"}, "axis": {"x": "independent"}}
}
